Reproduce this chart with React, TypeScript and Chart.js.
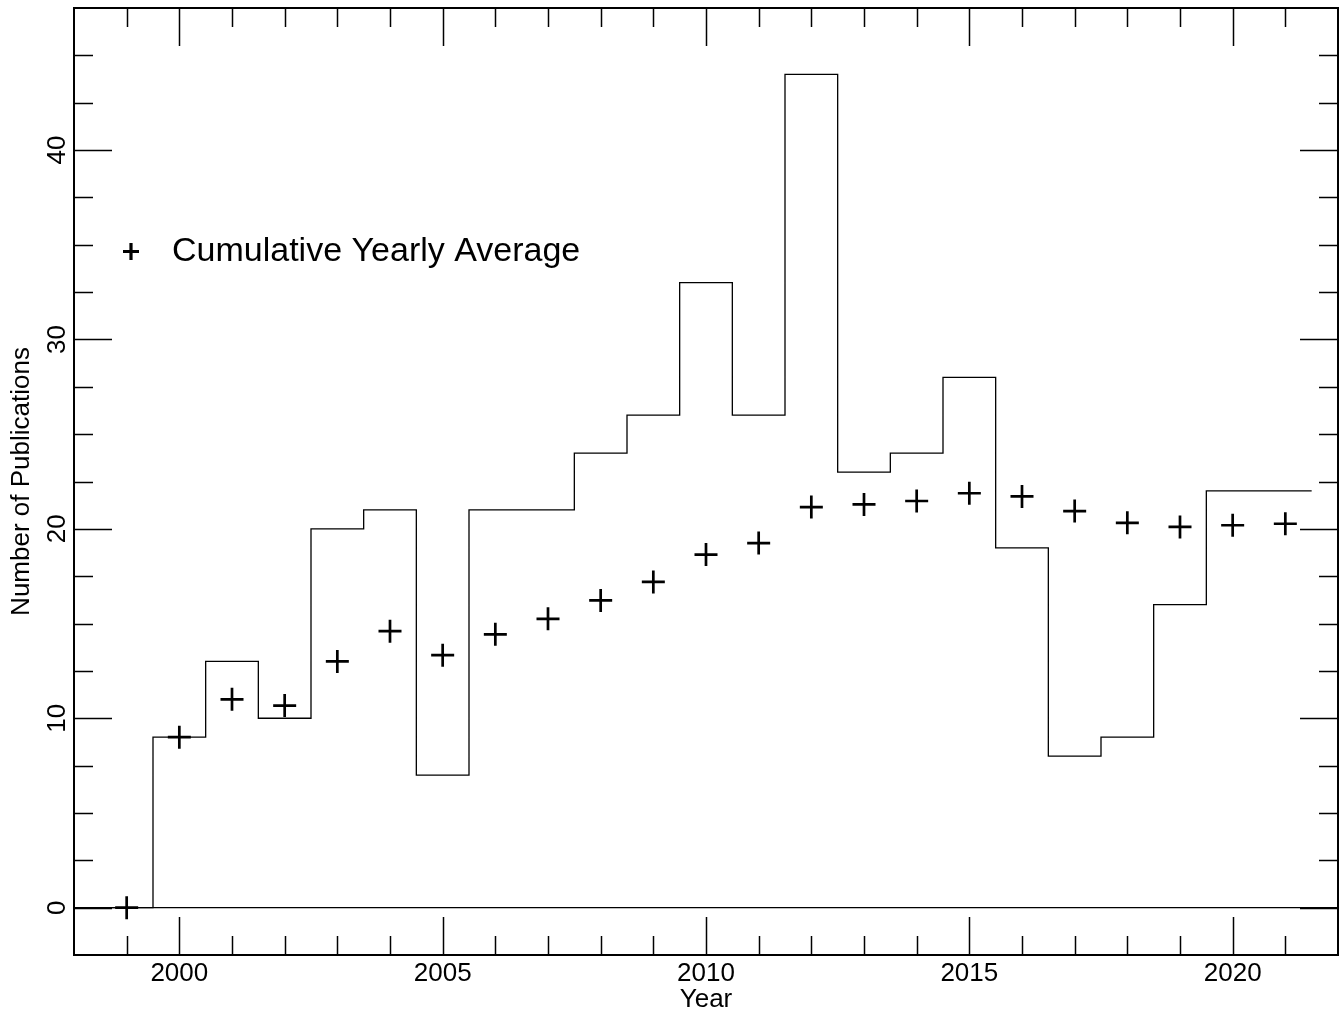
import React, { useEffect, useRef } from "react";
import { Chart, registerables } from "chart.js";

Chart.register(...registerables);

const years = [1999, 2000, 2001, 2002, 2003, 2004, 2005, 2006, 2007, 2008, 2009, 2010, 2011, 2012, 2013, 2014, 2015, 2016, 2017, 2018, 2019, 2020, 2021];
const publications = [0, 9, 13, 10, 20, 21, 7, 21, 21, 24, 26, 33, 26, 44, 23, 24, 28, 19, 8, 9, 16, 22, 22];
const cumulativeAverage = [0, 9, 11, 10.67, 13, 14.6, 13.33, 14.43, 15.25, 16.22, 17.2, 18.64, 19.25, 21.15, 21.29, 21.47, 21.88, 21.71, 20.94, 20.32, 20.1, 20.19, 20.27];
const xRange = [1998, 2022];
const yRange = [-2.5, 47.5];
const legendLabel = "Cumulative Yearly Average";
const xTitle = "Year";
const yTitle = "Number of Publications";

const FONT = "'Liberation Sans', Arial, Helvetica, sans-serif";

const framePlugin = {
  id: "idlFrame",
  afterDatasetsDraw(chart: any) {
    const { ctx, chartArea: a, scales } = chart;
    const xs = scales.x;
    const ys = scales.y;
    ctx.save();
    ctx.strokeStyle = "#000";
    ctx.lineWidth = 1.5;
    ctx.beginPath();
    xs.ticks.forEach((t: any) => {
      const v = t.value;
      if (v <= xRange[0] || v >= xRange[1]) return;
      const px = Math.round(xs.getPixelForValue(v)) + 0.5;
      const len = v % 5 === 0 ? 38 : 19;
      ctx.moveTo(px, a.bottom);
      ctx.lineTo(px, a.bottom - len);
      ctx.moveTo(px, a.top);
      ctx.lineTo(px, a.top + len);
    });
    ys.ticks.forEach((t: any) => {
      const v = t.value;
      if (v <= yRange[0] || v >= yRange[1]) return;
      const py = Math.round(ys.getPixelForValue(v)) + 0.5;
      const len = v % 10 === 0 ? 38 : 19;
      ctx.moveTo(a.left, py);
      ctx.lineTo(a.left + len, py);
      ctx.moveTo(a.right, py);
      ctx.lineTo(a.right - len, py);
    });
    ctx.stroke();
    ctx.lineWidth = 2;
    ctx.strokeRect(a.left, a.top, a.right - a.left, a.bottom - a.top);

    // legend
    const lx = a.left + 57;
    const ly = a.top + 243.5;
    ctx.lineWidth = 3.2;
    ctx.beginPath();
    ctx.moveTo(lx - 8, ly);
    ctx.lineTo(lx + 8, ly);
    ctx.moveTo(lx, ly - 8.5);
    ctx.lineTo(lx, ly + 8.5);
    ctx.stroke();
    ctx.fillStyle = "#000";
    ctx.font = `34px ${FONT}`;
    ctx.textBaseline = "alphabetic";
    ctx.textAlign = "left";
    ctx.fillText(legendLabel, a.left + 98, a.top + 253);
    ctx.restore();
  },
};

const zeroPad = (s: any) => {
  s.paddingLeft = 0;
  s.paddingRight = 0;
  s.paddingTop = 0;
  s.paddingBottom = 0;
};

export default function App() {
  const ref = useRef<HTMLCanvasElement | null>(null);

  useEffect(() => {
    if (!ref.current) return;
    const histData = years.map((yr, i) => ({ x: yr - 0.5, y: publications[i] }));
    histData.push({ x: years[years.length - 1] + 0.5, y: publications[publications.length - 1] });
    const avgData = years.map((yr, i) => ({ x: yr, y: cumulativeAverage[i] }));

    const chart = new Chart(ref.current, {
      type: "line",
      data: {
        datasets: [
          {
            label: "Publications",
            data: histData,
            stepped: "before",
            borderColor: "#000",
            borderWidth: 1.3,
            pointRadius: 0,
            fill: false,
          },
          {
            label: "zero",
            data: [
              { x: xRange[0], y: 0 },
              { x: xRange[1], y: 0 },
            ],
            borderColor: "#000",
            borderWidth: 1.3,
            pointRadius: 0,
            fill: false,
          },
          {
            label: legendLabel,
            data: avgData,
            showLine: false,
            pointStyle: "cross",
            pointRadius: 11.5,
            pointBorderWidth: 2.7,
            pointBorderColor: "#000",
            borderColor: "#000",
            pointHoverRadius: 11.5,
          } as any,
        ],
      },
      options: {
        animation: false,
        responsive: false,
        devicePixelRatio: 1,
        events: [],
        layout: { autoPadding: false, padding: { top: 8, right: 2, left: 0, bottom: 0 } },
        plugins: {
          legend: { display: false },
          tooltip: { enabled: false },
          title: { display: false },
        },
        scales: {
          x: {
            type: "linear",
            min: xRange[0],
            max: xRange[1],
            grid: { display: false, drawTicks: false },
            border: { display: false },
            ticks: {
              stepSize: 1,
              autoSkip: false,
              maxRotation: 0,
              minRotation: 0,
              padding: 3,
              color: "#000",
              font: { family: FONT, size: 26 },
              callback: (v: any) => (Number(v) % 5 === 0 ? String(v) : ""),
            },
            title: {
              display: true,
              text: xTitle,
              color: "#000",
              font: { family: FONT, size: 26, lineHeight: 1 },
              padding: { top: 0, bottom: 0 },
            },
            afterFit: (s: any) => {
              s.height = 58;
              zeroPad(s);
            },
          },
          y: {
            type: "linear",
            min: yRange[0],
            max: yRange[1],
            grid: { display: false, drawTicks: false },
            border: { display: false },
            ticks: {
              stepSize: 2.5,
              autoSkip: false,
              minRotation: 90,
              maxRotation: 90,
              crossAlign: "center",
              padding: 2,
              color: "#000",
              font: { family: FONT, size: 26 },
              callback: (v: any) => (Number(v) % 10 === 0 ? String(v) : ""),
            },
            title: {
              display: true,
              text: yTitle,
              color: "#000",
              font: { family: FONT, size: 26, lineHeight: 1 },
              padding: { top: 9, bottom: 0 },
            },
            afterFit: (s: any) => {
              s.width = 74;
              zeroPad(s);
            },
          },
        },
      } as any,
      plugins: [framePlugin],
    });
    return () => chart.destroy();
  }, []);

  return (
    <div style={{ position: "absolute", left: 0, top: 0, width: 1340, height: 1013, background: "#fff" }}>
      <canvas ref={ref} width={1340} height={1013} style={{ width: 1340, height: 1013, display: "block" }} />
    </div>
  );
}
